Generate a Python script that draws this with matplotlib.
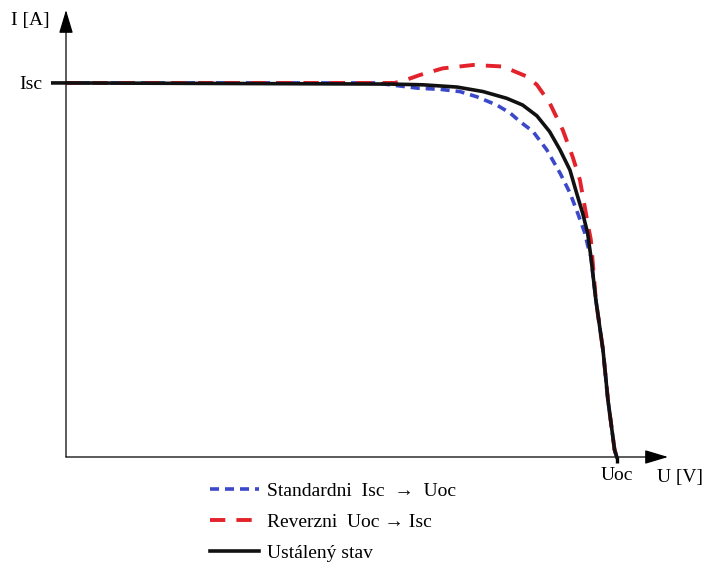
"""Sketch of the I-V characteristic of a PV module for three sweep directions."""

import matplotlib

matplotlib.use("Agg")
import matplotlib.pyplot as plt

# Normalised values: U / Uoc and I / Isc.
u_standard = [0.0, 0.561, 0.639, 0.679, 0.715, 0.746, 0.782, 0.806, 0.824, 0.848, 0.873, 0.897,
              0.915, 0.929, 0.942, 0.947, 0.953, 0.962, 0.975, 0.984, 0.996, 1.0]
i_standard = [1.0, 1.0, 0.986, 0.983, 0.977, 0.963, 0.941, 0.920, 0.897, 0.870, 0.821, 0.759,
              0.706, 0.652, 0.599, 0.567, 0.535, 0.420, 0.286, 0.152, 0.019, 0.0]

u_reverse = [0.0, 0.561, 0.597, 0.621, 0.642, 0.684, 0.739, 0.793, 0.837, 0.855, 0.878, 0.902,
             0.920, 0.933, 0.942, 0.947, 0.953, 0.962, 0.975, 0.984, 0.996, 1.0]
i_reverse = [1.0, 1.0, 1.0, 1.010, 1.021, 1.039, 1.048, 1.044, 1.017, 0.995, 0.947, 0.874,
             0.802, 0.741, 0.668, 0.626, 0.580, 0.420, 0.286, 0.152, 0.019, 0.0]

u_steady = [-0.024, 0.0, 0.588, 0.648, 0.710, 0.757, 0.800, 0.829, 0.855, 0.878, 0.897, 0.915,
            0.927, 0.938, 0.947, 0.953, 0.962, 0.975, 0.984, 0.996, 1.0]
i_steady = [1.0, 1.0, 0.997, 0.995, 0.989, 0.977, 0.959, 0.941, 0.912, 0.870, 0.821, 0.767,
            0.706, 0.652, 0.599, 0.535, 0.420, 0.286, 0.152, 0.019, 0.0]

labels = ["Standardni  Isc  \u2192  Uoc", "Reverzni  Uoc \u2192 Isc", "Ustálený stav"]

plt.rcParams["font.family"] = ["Liberation Serif", "DejaVu Serif"]
plt.rcParams["lines.scale_dashes"] = False

fig = plt.figure(figsize=(7.03, 5.63), dpi=100)
ax = fig.add_axes([66 / 703, 106 / 563, 602 / 703, 447 / 563])
ax.set_xlim(0, 1.093)
ax.set_ylim(0, 1.195)

blue, = ax.plot(u_standard, i_standard, color="#3b48c9", lw=2.6, linestyle=(0, (6.5, 4.3)))
red, = ax.plot(u_reverse, i_reverse, color="#e3222b", lw=2.8, linestyle=(0, (11, 8)))
black, = ax.plot(u_steady, i_steady, color="#111111", lw=2.6, clip_on=False, zorder=4)

# Axes drawn as arrows from the origin.
for side in ("top", "right", "left", "bottom"):
    ax.spines[side].set_visible(False)
arrow = dict(arrowstyle="-|>,head_length=0.9,head_width=0.27", lw=0.9, color="black",
             shrinkA=0, shrinkB=0, mutation_scale=16)
ax.annotate("", xy=(1.093, 0), xytext=(0, 0), arrowprops=arrow, annotation_clip=False)
ax.annotate("", xy=(0, 1.195), xytext=(0, 0), arrowprops=arrow, annotation_clip=False)

ax.set_xticks([1.0])
ax.set_xticklabels(["Uoc"], fontsize=14)
ax.set_yticks([1.0])
ax.set_yticklabels(["Isc"], fontsize=14)
ax.tick_params(axis="x", length=4.5, width=2.4, pad=3)
ax.tick_params(axis="y", length=0, pad=17)

ax.text(-0.029, 1.168, "I [A]", fontsize=14, ha="right", va="center")
ax.text(1.073, -0.056, "U [V]", fontsize=14, ha="left", va="center")

fig.legend([blue, red, black], labels, loc="upper left", bbox_to_anchor=(210 / 703, 81 / 563),
           frameon=False, fontsize=14, handlelength=2.5, handletextpad=0.45,
           labelspacing=0.7, borderpad=0, borderaxespad=0)

fig.savefig("out.png", dpi=100)
